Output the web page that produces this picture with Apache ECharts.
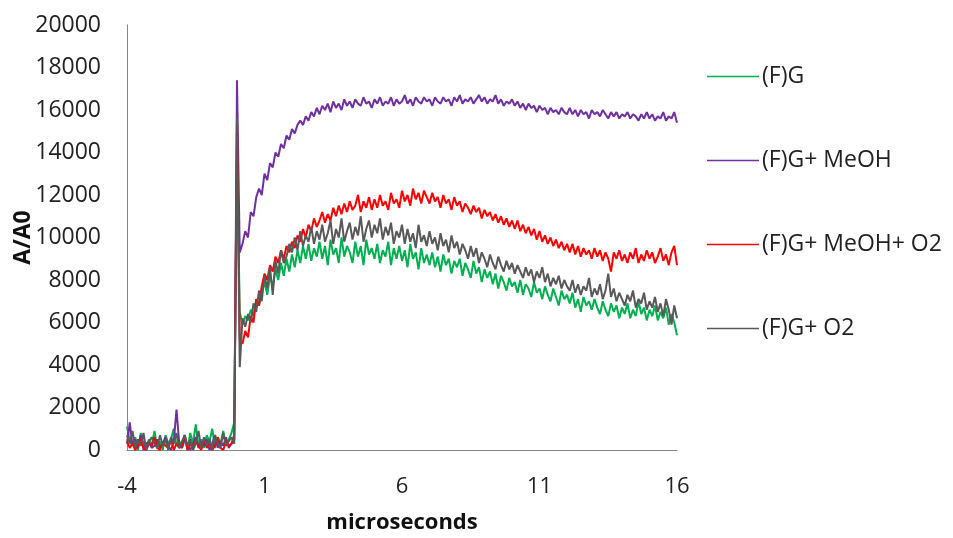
<!DOCTYPE html>
<html><head><meta charset="utf-8">
<script src="https://cdn.jsdelivr.net/npm/echarts@6/dist/echarts.min.js"></script>
<style>html,body{margin:0;padding:0;background:#fff}#c{width:953px;height:538px}</style>
</head><body><div id="c"></div>
<script>
// sample times: start -4 µs, step 0.1 µs (201 samples, -4 .. 16)
const tStart = -4, tStep = 0.1;
const seriesNames = ['(F)G', '(F)G+ MeOH', '(F)G+ MeOH+ O2', '(F)G+ O2'];
const xTicks = [-4, 1, 6, 11, 16];

// (F)G  -- green
const fg = [
 1100,400,200,600,0,800,300,100,500,200, 900,100,400,0,700,300,500,1000,200,400,
 100,600,0,800,300,1200,200,500,100,700, 400,1000,100,600,300,900,200,500,800,1300,
 14000,
 6500,5900,6300,6100,6600,6300,7100,6800,7400,7900,
 7300,8200,7700,8500,8000,8800,8200,9000,8400,9200,
 8600,9400,8800,9600,9000,9700,8900,9500,9100,9800,
 9000,9600,8700,9900,9200,9500,8800,10000,9100,9600,
 9300,8800,9800,9100,9600,8700,9900,9200,9500,9000,
 9700,8800,9400,9100,9800,8700,9500,9000,9600,8900,
 9400,8600,9700,9000,9300,8500,9500,8800,9200,8700,
 9300,8600,9100,8400,9200,8700,9000,8300,8900,8600,
 9000,8200,8800,8500,8100,8900,8300,8600,7900,8500,
 8100,8400,7800,8300,7600,8200,7900,7500,8100,7700,
 7900,7400,8000,7300,7800,7600,7200,7900,7400,7600,
 7100,7700,7300,7000,7600,7200,6800,7500,7100,7300,
 6900,7400,6700,7100,6500,7200,6800,7000,6600,7100,
 6700,6400,7000,6600,6300,6900,6500,6800,6200,6700,
 6400,6900,6200,6600,6300,7000,6400,6700,6100,6600,
 6300,6800,6100,6500,6200,6700,5900,6400,6000,5400
];

// (F)G+ MeOH -- purple
const fgMeOH = [
 300,1300,200,500,100,700,0,300,400,100, 200,500,100,300,600,200,0,400,1900,300,
 100,500,200,0,300,600,100,400,200,500, 0,300,700,100,400,200,600,100,300,500,
 17400,
 9300,9700,10300,10000,11200,11000,11900,12300,12000,13000,
 12700,13500,13300,14000,13800,14400,14200,14800,14600,15100,
 14900,15300,15500,15300,15700,15500,15900,15700,16100,15800,
 16200,16000,16300,15900,16400,16100,16300,16000,16500,16200,
 16400,16100,16500,16300,16200,16600,16300,16400,16100,16500,
 16300,16600,16200,16400,16300,16600,16200,16500,16300,16400,
 16700,16300,16500,16200,16600,16400,16300,16600,16400,16500,
 16200,16600,16400,16300,16600,16400,16500,16200,16600,16400,
 16700,16300,16500,16400,16600,16300,16500,16700,16400,16600,
 16300,16500,16400,16700,16300,16500,16200,16400,16300,16500,
 16200,16400,16100,16300,16000,16300,16100,16200,15900,16200,
 16000,16100,15800,16100,15900,16000,15800,16100,15900,15800,
 16100,15800,16000,15700,16000,15800,15900,15600,16000,15800,
 15900,15700,16000,15800,15600,15900,15700,15900,15600,15800,
 15700,15900,15600,15800,15700,15500,15800,15600,15900,15600,
 15800,15500,15700,15600,15900,15500,15700,15600,15900,15400
];

// (F)G+ MeOH+ O2 -- red
const fgMeOHO2 = [
 400,100,300,0,200,500,100,0,300,200, 600,100,0,400,200,100,500,0,300,100,
 200,700,0,300,100,400,200,0,500,100, 300,0,200,600,100,0,400,200,300,700,
 15400,
 5200,5000,5600,5300,6300,6000,7100,6800,7700,8300,
 8000,8700,8400,9100,8800,9400,9000,9600,9300,9800,
 9500,10100,9800,10400,10000,10600,10300,10900,10500,10800,
 11200,10700,11100,10800,11400,11000,11500,11100,11600,11200,
 11700,11300,11500,12000,11200,11700,11400,11900,11300,11800,
 11400,12000,11500,11700,11300,12100,11600,11800,11400,12200,
 11700,12000,11500,12300,11800,12100,11600,12200,11900,11600,
 12100,11700,11900,11400,12000,11600,11800,11300,11900,11500,
 11700,11200,11600,11400,11100,11500,11200,11400,10900,11300,
 11000,11200,10800,11100,10700,11000,10600,10900,10500,10800,
 10400,10800,10300,10600,10200,10500,10100,10400,9900,10300,
 9800,10100,9700,10000,9600,9900,9500,9800,9400,9700,
 9300,9700,9200,9600,9100,9500,9200,9400,9000,9500,
 9100,9400,8900,9300,9000,8400,9300,9000,9400,8900,
 9200,8800,9300,9000,9500,8800,9200,8900,9400,9000,
 9300,8800,9100,9500,8900,9200,8700,9300,9600,8700
];

// (F)G+ O2 -- grey
const fgO2 = [
 700,300,900,100,500,200,800,0,400,600, 300,100,700,200,500,0,600,300,800,100,
 400,700,200,500,0,300,900,100,600,200, 500,0,700,300,100,800,200,400,600,300,
 15600,
 3900,6200,5800,6400,6000,6900,6500,7500,7000,8200,
 7600,8600,7300,8900,8300,9400,8800,9100,9700,9300,
 10000,9400,10300,9600,10100,9800,10500,9700,10300,9900,
 10600,9800,10200,10800,9700,10400,10000,10900,9800,10300,
 10700,9900,10500,10100,11000,9800,10400,10800,10000,10600,
 10200,10900,9900,10500,10100,10700,9700,10300,10000,10600,
 9700,10400,9800,10200,9500,10600,9800,10100,9600,10300,
 9700,10000,9400,10200,9600,9900,9300,10100,9500,9800,
 9200,9700,9400,9000,9600,9100,9500,8800,9300,9000,
 8600,9200,8800,8500,9100,8700,8400,8900,8500,8800,
 8300,8700,8400,8100,8600,8200,8500,7900,8400,8100,
 8600,7900,8300,7700,8100,7800,8200,7600,8000,7700,
 7500,8000,7400,7800,7300,7700,7500,8100,7200,7600,
 7300,7800,7100,7500,8300,7200,7600,7000,7400,7100,
 6800,7300,7000,7500,6700,7100,6900,7400,6600,7000,
 6700,7200,6500,6900,6300,7100,6600,5900,6800,6200
];

const colors = ['#00B050', '#7030A0', '#FF0000', '#595959'];
const allData = [fg, fgMeOH, fgMeOHO2, fgO2];

function pairs(vals) {
  return vals.map((v, i) => [Number((tStart + i * tStep).toFixed(2)), v]);
}

const FONT = '"Open Sans", "Liberation Sans", sans-serif';
const legendTops = [75, 159, 243, 327];

const chart = echarts.init(document.getElementById('c'), null, {renderer: 'canvas'});
chart.setOption({
  animation: false,
  backgroundColor: '#fff',
  color: colors,
  grid: {left: 127, right: 276, top: 25, bottom: 88, containLabel: false, outerBoundsMode: 'none'},
  legend: seriesNames.map((n, i) => ({
    data: [n],
    left: 707,
    top: legendTops[i] - 10,
    padding: 0,
    icon: 'rect',
    itemWidth: 52,
    itemHeight: 1.5,
    itemGap: 4,
    selectedMode: false,
    textStyle: {fontFamily: FONT, fontSize: 23, color: '#222', padding: [0, 0, 0, -2]}
  })),
  xAxis: {
    type: 'value',
    min: -4, max: 16, interval: 5,
    name: 'microseconds',
    nameLocation: 'middle',
    nameGap: 62,
    nameMoveOverlap: false,
    nameTextStyle: {fontFamily: FONT, fontSize: 22, fontWeight: 'bold', color: '#111'},
    axisLine: {show: true, onZero: false, lineStyle: {color: '#868686', width: 1}},
    axisTick: {show: false},
    splitLine: {show: false},
    axisLabel: {
      fontFamily: FONT, fontSize: 22, color: '#222', margin: 26,
      formatter: v => xTicks.includes(v) ? String(v) : ''
    }
  },
  yAxis: {
    type: 'value',
    min: 0, max: 20000, interval: 2000,
    name: 'A/A0',
    nameLocation: 'middle',
    nameGap: 92,
    nameMoveOverlap: false,
    nameTextStyle: {fontFamily: FONT, fontSize: 23, fontWeight: 'bold', color: '#111'},
    axisLine: {show: true, onZero: false, lineStyle: {color: '#868686', width: 1}},
    axisTick: {show: false},
    splitLine: {show: false},
    axisLabel: {fontFamily: FONT, fontSize: 23, color: '#222', margin: 26, formatter: v => String(v)}
  },
  series: seriesNames.map((n, i) => ({
    name: n,
    type: 'line',
    data: pairs(allData[i]),
    symbol: 'none',
    showSymbol: false,
    lineStyle: {color: colors[i], width: 2},
    itemStyle: {color: colors[i]},
    z: 2 + i
  }))
});
</script>
</body></html>
